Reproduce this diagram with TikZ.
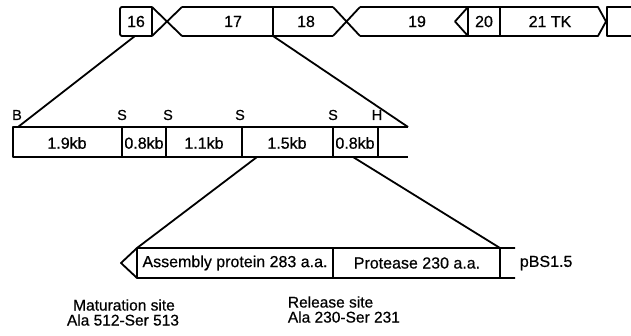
\documentclass[tikz,border=0pt]{standalone}
\usepackage{fontspec}
\setmainfont{Liberation Sans}[FakeBold=0.6]
\begin{document}
\begin{tikzpicture}[x=1pt,y=-1pt, line width=1.8pt, line join=round,
  lbl/.style={font=\fontsize{16}{18}\selectfont, inner sep=0pt},
  note/.style={font=\fontsize{15.5}{17}\selectfont, inner sep=0pt},
  site/.style={font=\fontsize{14.5}{16}\selectfont, inner sep=0pt},
  wedge/.style={line width=1.8pt}]
\useasboundingbox (0,0) rectangle (631,336);
% ---- top gene row ----
\coordinate (g16b) at (135,36);
\coordinate (g18l) at (273,36);
\draw[rounded corners=2pt] (152,7) -- (120,7) -- (120,36) -- (152,36);
\draw (152,7) -- (152,36);
\draw (152,7) -- (182,36) (152,36) -- (182,7);
\draw (182,7) -- (333,7) (182,36) -- (333,36);
\draw (273,7) -- (273,36);
\draw (333,7) -- (360,36) (333,36) -- (360,7);
\draw (360,7) -- (468,7) (360,36) -- (468,36);
\draw (468,7) -- (468,36);
\draw (468,7) -- (455,21.5) -- (468,36);
\draw (468,7) -- (598,7) -- (606,21.5) -- (598,36) -- (468,36);
\draw (500,7) -- (500,36);
\draw (631,7) -- (607,7) -- (607,36) -- (631,36);
\node[lbl] (t16) at (136,21.5) {16};
\node[lbl] (t17) at (233,21.5) {17};
\node[lbl] (t18) at (306,21.5) {18};
\node[lbl] (t19) at (417,21.5) {19};
\node[lbl] (t20) at (484,21.5) {20};
\node[lbl] (t21) at (550,21.5) {21 TK};
% ---- middle restriction map ----
\coordinate (mB) at (18,127);
\coordinate (mR) at (408,127);
\coordinate (m15l) at (257,157);
\coordinate (m15r) at (353,157);
\draw[wedge] (g16b) -- (mB);
\draw[wedge] (g18l) -- (mR);
\draw (mR) -- (13,127) -- (13,157) -- (408,157);
\foreach \xx in {122,166,242,333,378} \draw (\xx,127) -- (\xx,157);
\node[lbl] (k1) at (67,143) {1.9kb};
\node[lbl] (k2) at (144,143) {0.8kb};
\node[lbl] (k3) at (204,143) {1.1kb};
\node[lbl] (k4) at (287,143) {1.5kb};
\node[lbl] (k5) at (355,143) {0.8kb};
\node[site] (sB) at (17,115) {B};
\node[site] (s1) at (122,115) {S};
\node[site] (s2) at (168,115) {S};
\node[site] (s3) at (240,115) {S};
\node[site] (s4) at (333,115) {S};
\node[site] (sH) at (377,115) {H};
% ---- bottom pBS1.5 ----
\coordinate (bL) at (137,248);
\coordinate (bR) at (500,248);
\draw[wedge] (m15l) -- (bL);
\draw[wedge] (m15r) -- (bR);
\draw (515,248) -- (bL) -- (121,263) -- (137,278) -- (515,278);
\draw (137,248) -- (137,278);
\draw (333,248) -- (333,278);
\draw (500,248) -- (500,278);
\node[lbl] (asm) at (235,263) {Assembly protein 283 a.a.};
\node[lbl] (pro) at (417,263) {Protease 230 a.a.};
\node[lbl, anchor=west] (pbs) at (519,263) {pBS1.5};
\node[note] (mat1) at (124,305) {Maturation site};
\node[note] (mat2) at (123,320) {Ala 512-Ser 513};
\node[note, anchor=west] (rel1) at (287,302) {Release site};
\node[note, anchor=west] (rel2) at (287,317) {Ala 230-Ser 231};
\end{tikzpicture}
\end{document}
